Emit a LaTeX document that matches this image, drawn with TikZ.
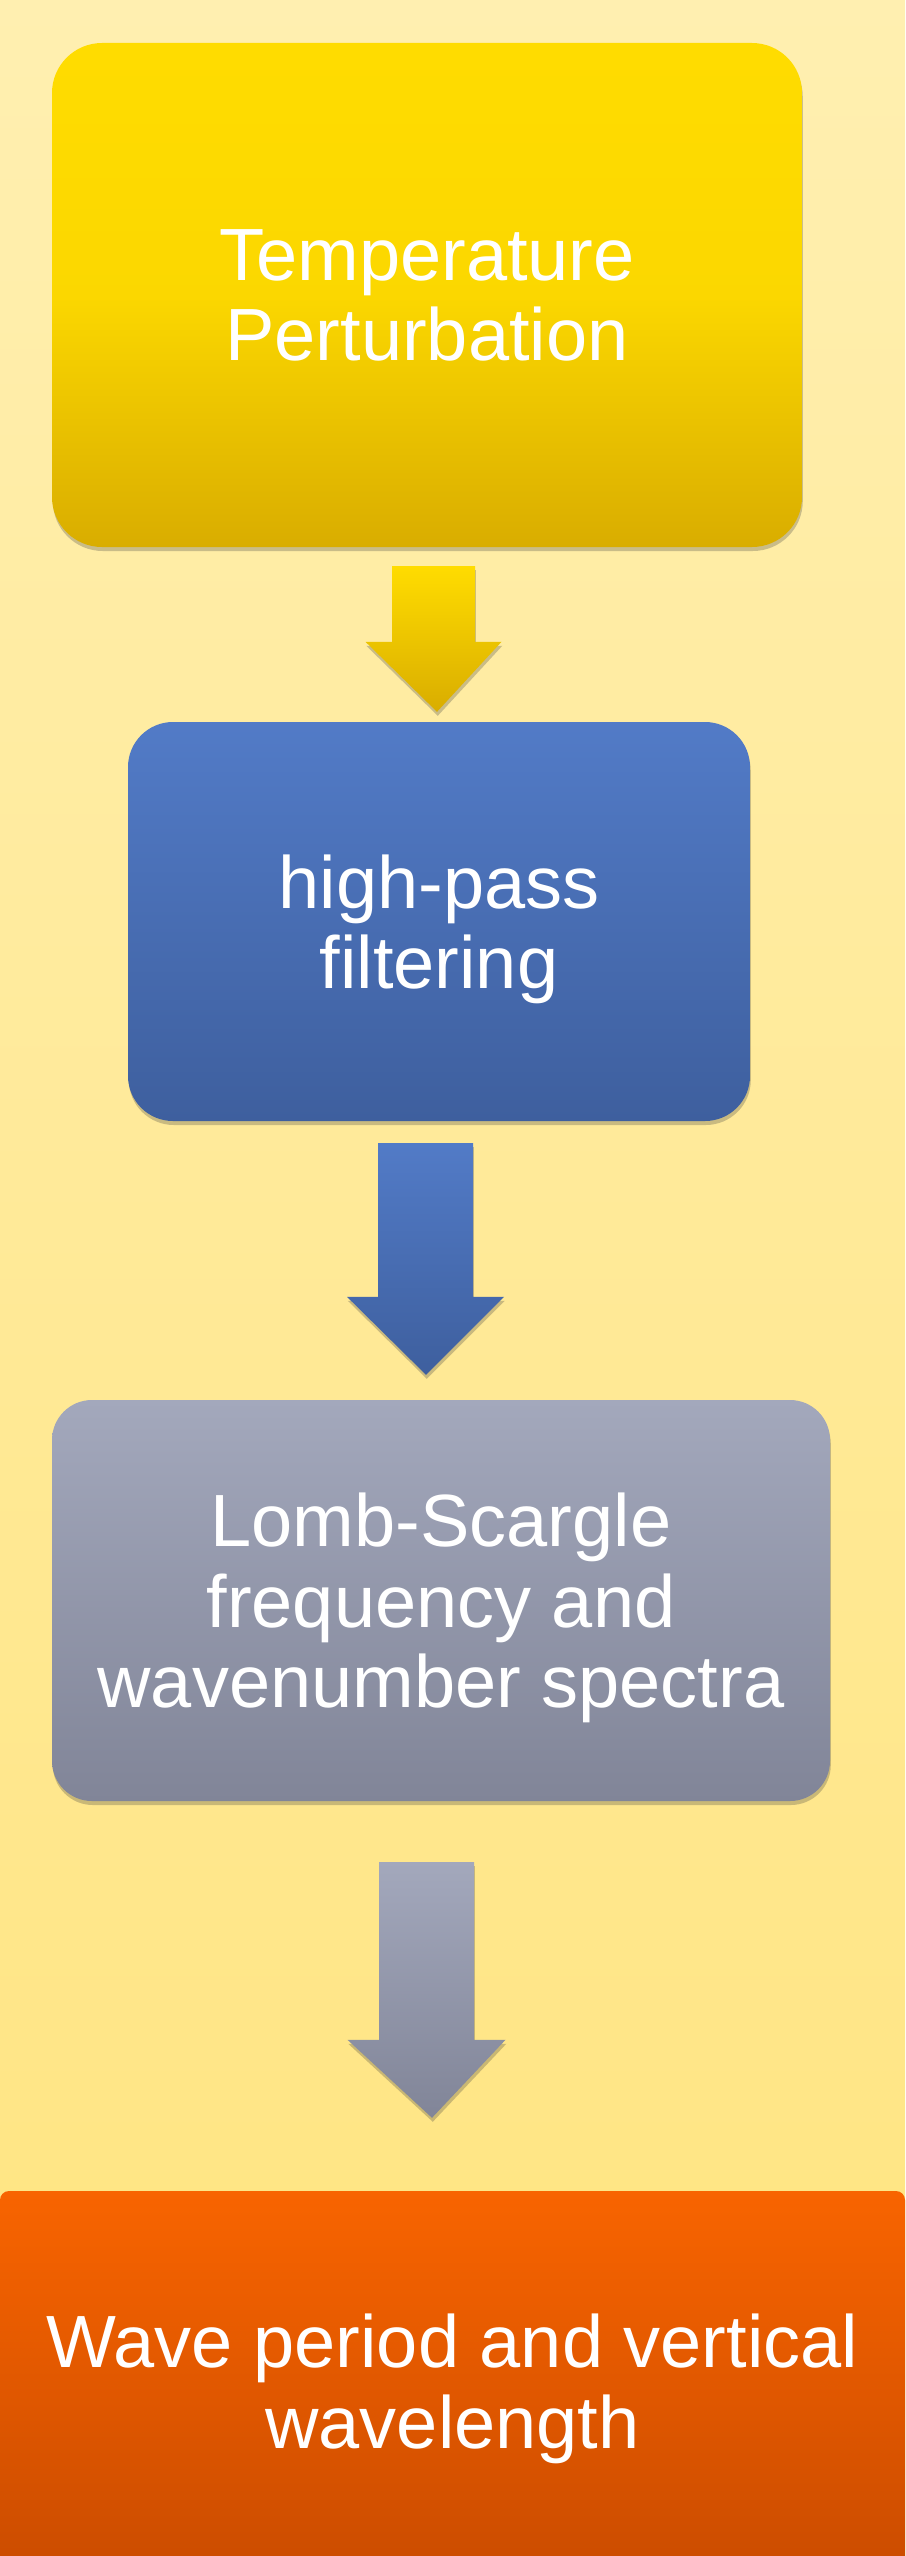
\documentclass[tikz,border=0pt]{standalone}
\usepackage{fontspec}
\setmainfont{Liberation Sans}
\usetikzlibrary{calc,shadows}

\definecolor{bgtop}{HTML}{FFEFB0}
\definecolor{bgbot}{HTML}{FFE47E}
\definecolor{goldtop}{HTML}{FFDC00}
\definecolor{goldbot}{HTML}{D9AD00}
\definecolor{bluetop}{HTML}{527BC7}
\definecolor{bluebot}{HTML}{3E5F9E}
\definecolor{greytop}{HTML}{A3A8BC}
\definecolor{greybot}{HTML}{818598}
\definecolor{orangetop}{HTML}{F86400}
\definecolor{orangebot}{HTML}{CB4C00}

\tikzset{
  softshadow/.style={drop shadow={shadow xshift=0.8pt, shadow yshift=-4pt, opacity=0.28, fill=black!75}},
  stepbox/.style={inner sep=0pt, align=center, text=white,
    font=\fontsize{74}{80.5}\selectfont, text depth=0pt, softshadow},
}

% block arrow from a top-centre coordinate to a tip coordinate
% #3 shaft half width, #4 head half width, #5 head length, #6/#7 colours
\newcommand\blockarrow[7]{%
  \path[top color=#6, bottom color=#7, softshadow]
    let \p1=(#1), \p2=(#2) in
    (\x1-#3pt,\y1) -- (\x1+#3pt,\y1) -- (\x1+#3pt,\y2+#5pt)
    -- (\x1+#4pt,\y2+#5pt) -- (\x2,\y2) -- (\x1-#4pt,\y2+#5pt)
    -- (\x1-#3pt,\y2+#5pt) -- cycle;}

\begin{document}
\begin{tikzpicture}[x=1pt,y=-1pt]
  \useasboundingbox (0,0) rectangle (905,2556);
  \clip (0,0) rectangle (905,2556);
  \shade[top color=bgtop, bottom color=bgbot] (0,0) rectangle (905,2556);

  \node[stepbox, minimum width=750pt, minimum height=504pt, rounded corners=50pt,
        top color=goldtop, bottom color=goldbot, middle color=goldtop!90!goldbot]
    (b1) at (427,295) {Temperature\\Perturbation};
  \node[stepbox, minimum width=622pt, minimum height=399pt, rounded corners=45pt,
        top color=bluetop, bottom color=bluebot]
    (b2) at (439,921.5) {high-pass\\filtering};
  \node[stepbox, minimum width=778pt, minimum height=401pt, rounded corners=40pt,
        top color=greytop, bottom color=greybot]
    (b3) at (441,1600.5) {Lomb-Scargle\\frequency and\\wavenumber spectra};
  \node[stepbox, minimum width=905pt, minimum height=380pt, rounded corners=9pt,
        top color=orangetop, bottom color=orangebot]
    (b4) at (452.5,2381) {Wave period and vertical\\wavelength};

  \coordinate (a1top) at ($(b1.south)+(6.5,19)$);
  \coordinate (a1tip) at ($(b2.north)+(-2,-10)$);
  \coordinate (a2top) at ($(b2.south)+(-13.5,22)$);
  \coordinate (a2tip) at ($(b3.north)+(-15,-25)$);
  \coordinate (a3top) at ($(b3.south)+(-14.5,61)$);
  \coordinate (a3tip) at ($(b4.north)+(-20.5,-73)$);

  \blockarrow{a1top}{a1tip}{41.5}{68}{70}{goldtop}{goldbot}
  \blockarrow{a2top}{a2tip}{47.5}{78.5}{78}{bluetop}{bluebot}
  \blockarrow{a3top}{a3tip}{47.5}{79}{78}{greytop}{greybot}
\end{tikzpicture}
\end{document}
